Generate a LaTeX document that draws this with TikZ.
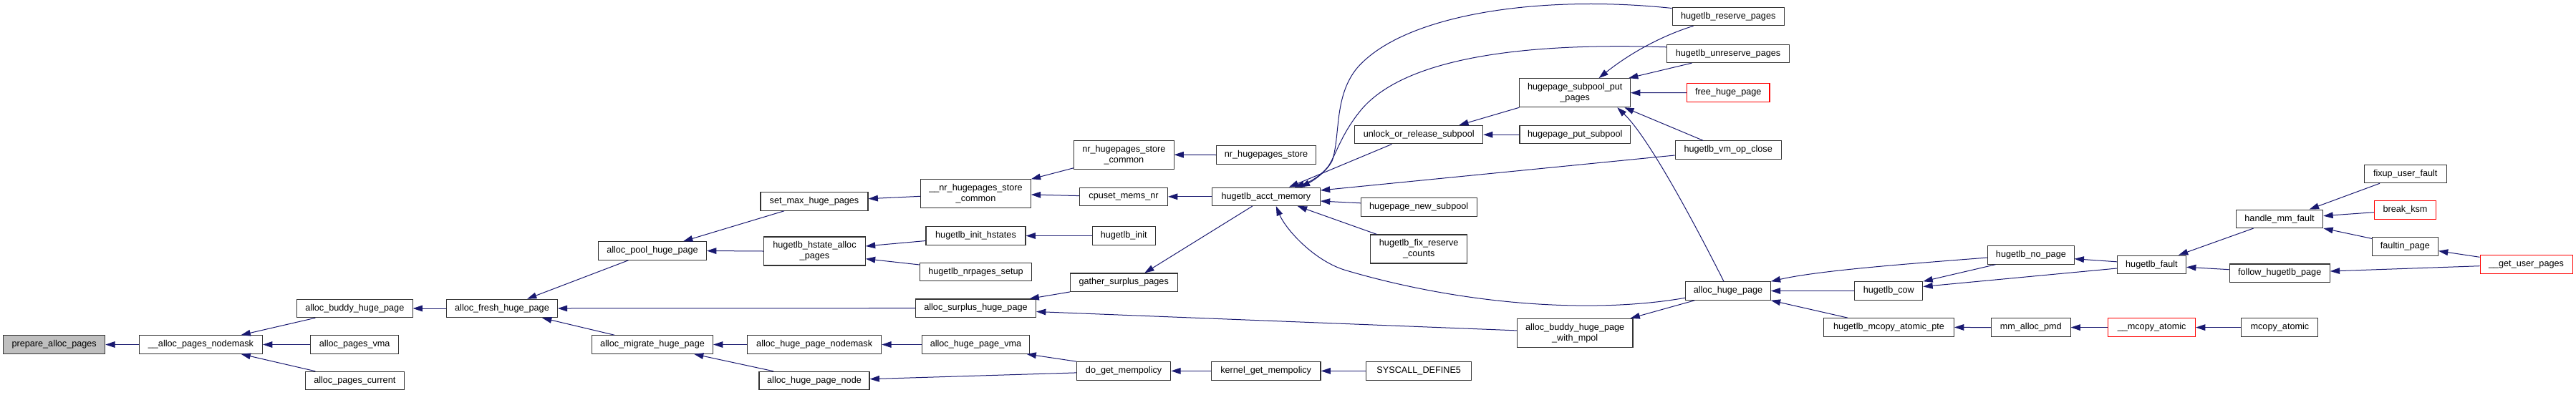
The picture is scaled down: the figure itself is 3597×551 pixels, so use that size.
\documentclass[tikz,border=0pt]{standalone}
\usepackage{fontspec}
\setmainfont{Liberation Sans}
\usetikzlibrary{arrows.meta,calc}
\definecolor{edgeblue}{RGB}{25,25,112}
\definecolor{nodegray}{RGB}{191,191,191}
\definecolor{truncred}{RGB}{255,0,0}
\newcommand\fnf{\fontsize{9.5}{11.25}\selectfont}
\tikzset{
  fn/.style={draw=black!80, line width=0.8pt, fill=white, inner sep=0pt,
             minimum height=19.1pt, font=\fnf, align=center},
  two/.style={minimum height=30pt},
  bw/.style={minimum width={#1*0.75pt}},
  cur/.style={fill=nodegray},
  truncnode/.style={draw=truncred},
  call/.style={draw=edgeblue, line width=0.75pt, -{Triangle[length=10pt,width=6.5pt]}}
}
\begin{document}
\begin{tikzpicture}[x=0.75pt,y=-0.75pt]
\useasboundingbox (0,0) rectangle (3597,551);
% nodes
\node[fn,cur,bw=142] (prep) at (75.7,481.5) {prepare\_alloc\_pages};
\node[fn,bw=172] (apn) at (280.5,481.5) {\_\_alloc\_pages\_nodemask};
\node[fn,bw=161.5] (abhp) at (495.3,431) {alloc\_buddy\_huge\_page};
\node[fn,bw=123] (apv) at (495.2,481.5) {alloc\_pages\_vma};
\node[fn,bw=138.5] (apc) at (495.3,532) {alloc\_pages\_current};
\node[fn,bw=154.6] (afhp) at (701,431) {alloc\_fresh\_huge\_page};
\node[fn,bw=151] (aphp) at (911,350.5) {alloc\_pool\_huge\_page};
\node[fn,bw=169] (amhp) at (911,481.5) {alloc\_migrate\_huge\_page};
\node[fn,bw=150] (smhp) at (1137,281.5) {set\_max\_huge\_pages};
\node[fn,two,bw=141.6] (hsap) at (1137.5,351) {hugetlb\_hstate\_alloc\\\_pages};
\node[fn,bw=187] (ahpnm) at (1137.2,481.5) {alloc\_huge\_page\_nodemask};
\node[fn,bw=154] (ahpn) at (1137,532) {alloc\_huge\_page\_node};
\node[fn,two,bw=153.5] (nrsc2) at (1362.5,270.8) {\_\_nr\_hugepages\_store\\\_common};
\node[fn,bw=139] (hih) at (1362.5,329.5) {hugetlb\_init\_hstates};
\node[fn,bw=155.7] (hnps) at (1362.5,380) {hugetlb\_nrpages\_setup};
\node[fn,bw=168] (ashp) at (1362.5,430.7) {alloc\_surplus\_huge\_page};
\node[fn,bw=150.4] (ahpv) at (1362.5,481.5) {alloc\_huge\_page\_vma};
\node[fn,two,bw=139.3] (nrsc) at (1569.4,216.2) {nr\_hugepages\_store\\\_common};
\node[fn,bw=123] (cmn) at (1569,274.8) {cpuset\_mems\_nr};
\node[fn,bw=88.3] (hinit) at (1569.2,329.5) {hugetlb\_init};
\node[fn,bw=149.7] (gsp) at (1569.2,394.7) {gather\_surplus\_pages};
\node[fn,bw=131.2] (dgm) at (1569.1,518.4) {do\_get\_mempolicy};
\node[fn,bw=138.6] (nrs) at (1768,216.5) {nr\_hugepages\_store};
\node[fn,bw=151] (ham) at (1767.8,274.8) {hugetlb\_acct\_memory};
\node[fn,bw=152.6] (kgm) at (1767.7,518.4) {kernel\_get\_mempolicy};
\node[fn,bw=146.6] (sysd) at (1981.2,518.4) {SYSCALL\_DEFINE5};
\node[fn,bw=178.8] (uors) at (1981.2,188.2) {unlock\_or\_release\_subpool};
\node[fn,bw=161.7] (hns) at (1981.2,289.4) {hugepage\_new\_subpool};
\node[fn,two,bw=135] (hfrc) at (1981.2,348) {hugetlb\_fix\_reserve\\\_counts};
\node[fn,two,bw=154.6] (hspp) at (2199.2,129.7) {hugepage\_subpool\_put\\\_pages};
\node[fn,bw=154.5] (hps) at (2199.2,188.2) {hugepage\_put\_subpool};
\node[fn,two,bw=161.6] (abhpm) at (2199.2,465.4) {alloc\_buddy\_huge\_page\\\_with\_mpol};
\node[fn,bw=156.3] (hrp) at (2413.2,23) {hugetlb\_reserve\_pages};
\node[fn,bw=171.4] (hurp) at (2413,74.8) {hugetlb\_unreserve\_pages};
\node[fn,truncnode,bw=115.3] (fhp) at (2413.3,129.5) {free\_huge\_page};
\node[fn,bw=148.3] (hvoc) at (2413.2,209.5) {hugetlb\_vm\_op\_close};
\node[fn,bw=118.5] (ahp) at (2413,406.5) {alloc\_huge\_page};
\node[fn,bw=95] (hcow) at (2637.3,406.5) {hugetlb\_cow};
\node[fn,bw=120.3] (hnp) at (2835.9,356.4) {hugetlb\_no\_page};
\node[fn,bw=181.8] (hmap) at (2637.5,457.4) {hugetlb\_mcopy\_atomic\_pte};
\node[fn,bw=110.7] (map) at (2835.7,457.6) {mm\_alloc\_pmd};
\node[fn,truncnode,bw=121.8] (mca) at (3004.6,457.6) {\_\_mcopy\_atomic};
\node[fn,bw=96.2] (hf) at (3004.4,369.8) {hugetlb\_fault};
\node[fn,bw=107] (mcopy) at (3183.4,457.6) {mcopy\_atomic};
\node[fn,bw=121.5] (hmf) at (3183,305.8) {handle\_mm\_fault};
\node[fn,bw=140] (fhgp) at (3183.2,381.7) {follow\_hugetlb\_page};
\node[fn,bw=115] (fuf) at (3358.7,243) {fixup\_user\_fault};
\node[fn,truncnode,bw=86.5] (bksm) at (3358.5,293.5) {break\_ksm};
\node[fn,bw=92] (fip) at (3358.4,344.4) {faultin\_page};
\node[fn,truncnode,bw=129] (gup) at (3527.5,369.5) {\_\_get\_user\_pages};
% connectors (caller -> callee)
\draw[call] (apn.west) -- (prep.east);
\draw[call] ($(abhp.south)+(-55,0)$) -- ($(apn.north)+(56,0)$);
\draw[call] (apv.west) -- (apn.east);
\draw[call] ($(apc.north)+(-55,0)$) -- ($(apn.south)+(56,0)$);
\draw[call] (afhp.west) -- (abhp.east);
\draw[call] ($(aphp.south)+(-33.5,0)$) -- ($(afhp.north)+(35,0)$);
\draw[call] (ashp.west) -- (afhp.east);
\draw[call] ($(amhp.north)+(-53,0)$) -- ($(afhp.south)+(56,0)$);
\draw[call] ($(smhp.south)+(-42,0)$) -- ($(aphp.north)+(43,0)$);
\draw[call] (hsap.west) -- (aphp.east);
\draw[call] (ahpnm.west) -- (amhp.east);
\draw[call] ($(ahpn.north)+(-57,0)$) -- ($(amhp.south)+(58,0)$);
\draw[call] ($(nrsc2.west)+(0,3.5)$) -- ($(smhp.east)+(0,-3.8)$);
\draw[call] ($(hih.west)+(0,7)$) -- ($(hsap.east)+(0,-7)$);
\draw[call] ($(hnps.west)+(0,-10)$) -- ($(hsap.east)+(0,10.7)$);
\draw[call] (gsp.south west) -- ($(ashp.north)+(75,0)$);
\draw[call] ($(abhpm.west)+(0,-3.5)$) -- ($(ashp.east)+(0,4.8)$);
\draw[call] (ahpv.west) -- (ahpnm.east);
\draw[call] (dgm.north west) -- ($(ahpv.south)+(71,0)$);
\draw[call] ($(dgm.west)+(0,2.5)$) -- ($(ahpn.east)+(0,-2.3)$);
\draw[call] ($(nrsc.south west)+(0,-2)$) -- (nrsc2.north east);
\draw[call] ($(cmn.west)+(0,-1.2)$) -- ($(nrsc2.east)+(0,1.2)$);
\draw[call] (hinit.west) -- (hih.east);
\draw[call] ($(ham.south)+(-19,0)$) -- ($(gsp.north)+(29,0)$);
\draw[call] (ham.west) -- (cmn.east);
\draw[call] (kgm.west) -- (dgm.east);
\draw[call] (nrs.west) -- (nrsc.east);
\draw[call] ($(hrp.west)+(0,-11.5)$) .. controls (2150,-8) and (1960,20) .. (1895,95)
   .. controls (1862,135) and (1872,190) .. (1860,225)
   .. controls (1852,240) and (1835,252) .. ($(ham.north)+(48,0)$);
\draw[call] ($(hurp.west)+(0,-9)$) .. controls (2150,60) and (1960,75) .. (1897,158)
   .. controls (1872,190) and (1866,215) .. (1855,232)
   .. controls (1845,245) and (1830,254) .. ($(ham.north)+(40,0)$);
\draw[call] ($(uors.south)+(-37.7,0)$) -- ($(ham.north)+(32,0)$);
\draw[call] ($(hvoc.west)+(0,7.5)$) -- ($(ham.east)+(0,-8.8)$);
\draw[call] ($(hns.west)+(0,-5.6)$) -- ($(ham.east)+(0,6.2)$);
\draw[call] ($(hfrc.north)+(-58.7,0)$) -- ($(ham.south)+(44,0)$);
\draw[call] ($(ahp.west)+(0,9.7)$) .. controls (2230,438) and (2050,428) .. (1880,378)
   .. controls (1835,365) and (1795,320) .. ($(ham.south)+(14,0)$);
\draw[call] (sysd.west) -- (kgm.east);
\draw[call] (hspp.south west) -- ($(uors.north)+(56,0)$);
\draw[call] (hps.west) -- (uors.east);
\draw[call] ($(hrp.south)+(-48.7,0)$) .. controls (2320,50) and (2275,75) .. ($(hspp.north)+(33.3,0)$);
\draw[call] ($(hurp.south)+(-50.4,0)$) -- ($(hspp.north east)+(-3,0)$);
\draw[call] (fhp.west) -- (hspp.east);
\draw[call] ($(hvoc.north)+(-35.3,0)$) -- ($(hspp.south)+(69,0)$);
\draw[call] ($(ahp.north)+(-6,0)$) .. controls (2360,300) and (2300,190) .. ($(hspp.south)+(59,0)$);
\draw[call] ($(ahp.south)+(-46.6,0)$) -- ($(abhpm.north)+(77.3,0)$);
\draw[call] ($(hnp.west)+(0,3.6)$) .. controls (2660,369) and (2540,378) .. (ahp.north east);
\draw[call] (hcow.west) -- (ahp.east);
\draw[call] ($(hmap.north)+(-57.5,0)$) -- (ahp.south east);
\draw[call] ($(hnp.south)+(-49.4,0)$) -- (hcow.north east);
\draw[call] ($(hf.west)+(0,5.2)$) -- ($(hcow.east)+(0,-6)$);
\draw[call] ($(hf.west)+(0,-4)$) -- ($(hnp.east)+(0,5.3)$);
\draw[call] (map.west) -- (hmap.east);
\draw[call] (mca.west) -- (map.east);
\draw[call] ($(hmf.south)+(-36.4,0)$) -- ($(hf.north)+(37.5,0)$);
\draw[call] ($(fhgp.west)+(0,-5)$) -- ($(hf.east)+(0,3.5)$);
\draw[call] (mcopy.west) -- (mca.east);
\draw[call] ($(fuf.south)+(-35.7,0)$) -- ($(hmf.north)+(41.7,0)$);
\draw[call] ($(bksm.west)+(0,3.2)$) -- ($(hmf.east)+(0,-4.1)$);
\draw[call] ($(fip.west)+(0,-11)$) -- (hmf.south east);
\draw[call] ($(gup.west)+(0,-10.2)$) -- ($(fip.east)+(0,6.3)$);
\draw[call] ($(gup.west)+(0,2.2)$) -- ($(fhgp.east)+(0,-2.7)$);
\end{tikzpicture}
\end{document}
